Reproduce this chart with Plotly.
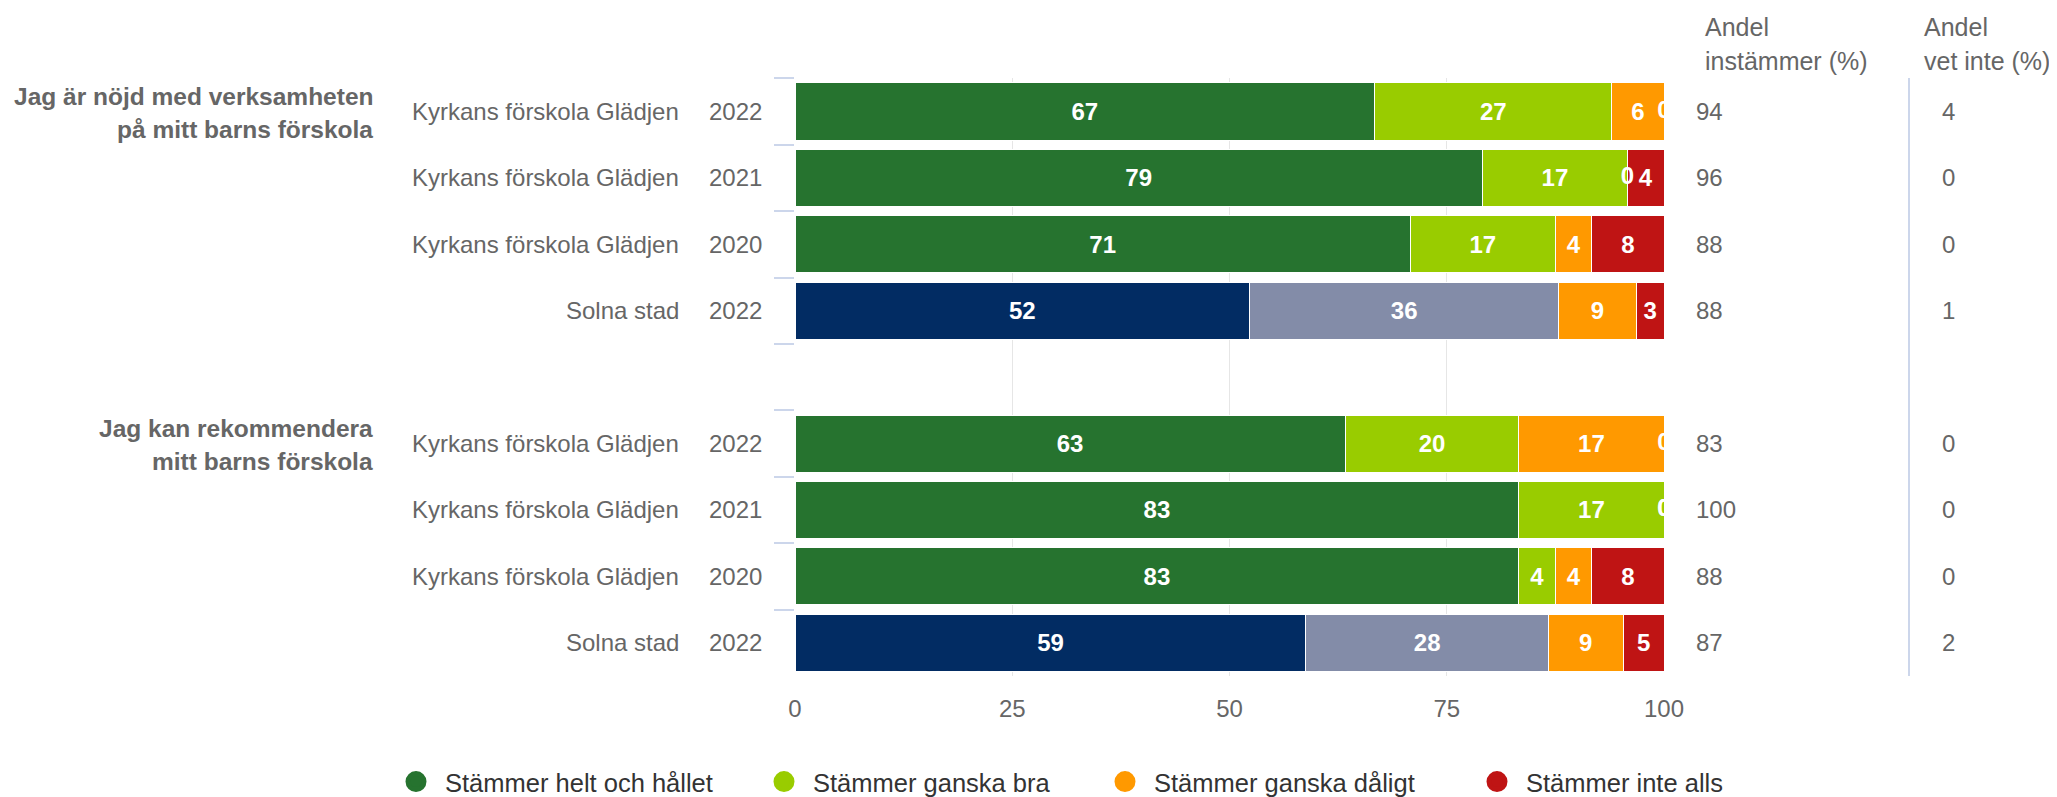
import numpy as np
import plotly.graph_objects as go

# ---------------- data ----------------
categories = ["q1_k2022", "q1_k2021", "q1_k2020", "q1_s2022", "gap",
              "q2_k2022", "q2_k2021", "q2_k2020", "q2_s2022"]
units = ["Kyrkans förskola Glädjen", "Kyrkans förskola Glädjen", "Kyrkans förskola Glädjen", "Solna stad", None,
         "Kyrkans förskola Glädjen", "Kyrkans förskola Glädjen", "Kyrkans förskola Glädjen", "Solna stad"]
years = ["2022", "2021", "2020", "2022", None, "2022", "2021", "2020", "2022"]
is_city = [False, False, False, True, None, False, False, False, True]

question_lines = [["Jag är nöjd med verksamheten", "på mitt barns förskola"],
                  ["Jag kan rekommendera", "mitt barns förskola"]]
question_rows = ["q1_k2022", "q2_k2022"]

series_names = ["Stämmer helt och hållet", "Stämmer ganska bra",
                "Stämmer ganska dåligt", "Stämmer inte alls"]
helt = [66.7, 79.1, 70.8, 52.3, None, 63.3, 83.3, 83.3, 58.8]
bra = [27.3, 16.7, 16.7, 35.6, None, 20.0, 16.7, 4.2, 27.9]
daligt = [6.0, 0, 4.2, 8.9, None, 16.7, 0, 4.2, 8.6]
inte = [0, 4.2, 8.3, 3.2, None, 0, 0, 8.3, 4.7]

andel_instammer = [94, 96, 88, 88, None, 83, 100, 88, 87]
andel_vet_inte = [4, 0, 0, 1, None, 0, 0, 0, 2]

header1 = ["Andel", "instämmer (%)"]
header2 = ["Andel", "vet inte (%)"]

# ---------------- styles ----------------
unit_colors = ["#26732f", "#99cc00", "#ff9900", "#bf1414"]
city_colors = ["#022c63", "#838ca8", "#ff9900", "#bf1414"]
FONT = "Liberation Sans, Arial, Helvetica, sans-serif"
OFF = 8  # page body margin
W, H = 2057 - OFF, 797 - OFF
L, R, T, B = 795 - OFF, 393, 78 - OFF, 121
PW = W - L - R
PH = H - T - B


def px_x(px):
    return (px - OFF - L) / PW


def px_y(py):
    return 1 - (py - OFF - T) / PH


fig = go.Figure()
all_series = [helt, bra, daligt, inte]
for name, vals, i in zip(series_names, all_series, range(4)):
    colors = [(city_colors[i] if c else unit_colors[i]) if c is not None else "#ffffff" for c in is_city]
    fig.add_trace(go.Bar(
        y=categories, x=vals, orientation="h", name=name, showlegend=False,
        marker=dict(color=colors, line=dict(color="#ffffff", width=1)),
        texttemplate="<b>%{x:.0f}</b>", textposition="inside",
        insidetextanchor="middle", constraintext="none", textangle=0,
        textfont=dict(family=FONT, size=24, color="#ffffff"),
        hoverinfo="skip",
    ))

# labels for zero-valued segments (drawn at the segment's stacked position)
arr = np.array([[np.nan if v is None else v for v in s] for s in all_series], dtype=float)
starts = np.vstack([np.zeros(arr.shape[1]), np.cumsum(arr, axis=0)[:-1]])
zx, zy = [], []
for i in range(arr.shape[0]):
    for j, cat in enumerate(categories):
        if arr[i, j] == 0:
            zx.append(starts[i, j])
            zy.append(cat)
fig.add_trace(go.Scatter(
    x=zx, y=zy, mode="text", text=["<b>0</b>"] * len(zx), textposition="middle center",
    textfont=dict(family=FONT, size=24, color="#ffffff"), showlegend=False,
    cliponaxis=True, hoverinfo="skip",
))

legend_widths = [305, 278, 309, 240]
for name, col, lw in zip(series_names, unit_colors, legend_widths):
    fig.add_trace(go.Scatter(
        x=[None], y=[None], mode="markers", name=name, legendwidth=lw,
        marker=dict(symbol="circle", size=16, color=col, line=dict(color=col, width=5)),
    ))

annotations = []
for cat, u, yr in zip(categories, units, years):
    if u is None:
        continue
    annotations.append(dict(x=px_x(681), y=cat, xref="paper", yref="y", text=u,
                            xanchor="right", yanchor="middle", showarrow=False,
                            font=dict(family=FONT, size=24, color="#666666")))
    annotations.append(dict(x=px_x(764), y=cat, xref="paper", yref="y", text=yr,
                            xanchor="right", yanchor="middle", showarrow=False,
                            font=dict(family=FONT, size=24, color="#666666")))
for lines, cat in zip(question_lines, question_rows):
    for line, shift in zip(lines, [15, -18]):
        annotations.append(dict(x=px_x(375), y=cat, xref="paper", yref="y", text="<b>" + line + "</b>",
                                xanchor="right", yanchor="middle", yshift=shift, showarrow=False,
                                font=dict(family=FONT, size=24.5, color="#666666")))
for cat, a, v in zip(categories, andel_instammer, andel_vet_inte):
    if a is None:
        continue
    annotations.append(dict(x=px_x(1694), y=cat, xref="paper", yref="y", text=str(a),
                            xanchor="left", yanchor="middle", showarrow=False,
                            font=dict(family=FONT, size=24, color="#666666")))
    annotations.append(dict(x=px_x(1940), y=cat, xref="paper", yref="y", text=str(v),
                            xanchor="left", yanchor="middle", showarrow=False,
                            font=dict(family=FONT, size=24, color="#666666")))
for hdr, xpx in [(header1, 1703), (header2, 1922)]:
    for line, ypx in zip(hdr, [27, 61]):
        annotations.append(dict(x=px_x(xpx), y=px_y(ypx), xref="paper", yref="paper", text=line,
                                xanchor="left", yanchor="middle", showarrow=False,
                                font=dict(family=FONT, size=25, color="#666666")))

fig.update_layout(
    width=W, height=H,
    margin=dict(l=L, r=R, t=T, b=B, pad=0, autoexpand=False),
    paper_bgcolor="#ffffff", plot_bgcolor="#ffffff",
    barmode="stack", bargap=0.14,
    font=dict(family=FONT, size=24, color="#666666"),
    xaxis=dict(range=[0, 100], tickvals=[0, 25, 50, 75, 100], showgrid=True,
               gridcolor="#e6e6e6", gridwidth=1, zeroline=False, showline=False,
               ticks="outside", ticklen=11, tickcolor="rgba(0,0,0,0)",
               tickfont=dict(family=FONT, size=24, color="#666666"), fixedrange=True),
    yaxis=dict(categoryorder="array", categoryarray=categories, autorange="reversed",
               showticklabels=False, ticks="outside", tickson="boundaries", ticklen=20,
               tickcolor="#ccd6eb", tickwidth=2, showgrid=False, zeroline=False,
               showline=False, fixedrange=True),
    showlegend=True,
    legend=dict(orientation="h", x=px_x(387), xanchor="left", y=px_y(782), yanchor="middle",
                itemwidth=48, font=dict(family=FONT, size=25.5, color="#333333"),
                bgcolor="rgba(0,0,0,0)", traceorder="normal"),
    annotations=annotations,
    shapes=[dict(type="line", xref="paper", yref="paper", x0=px_x(1909), x1=px_x(1909),
                 y0=0, y1=1, line=dict(color="#ccd6eb", width=2))],
)

fig.write_html("out.html")
